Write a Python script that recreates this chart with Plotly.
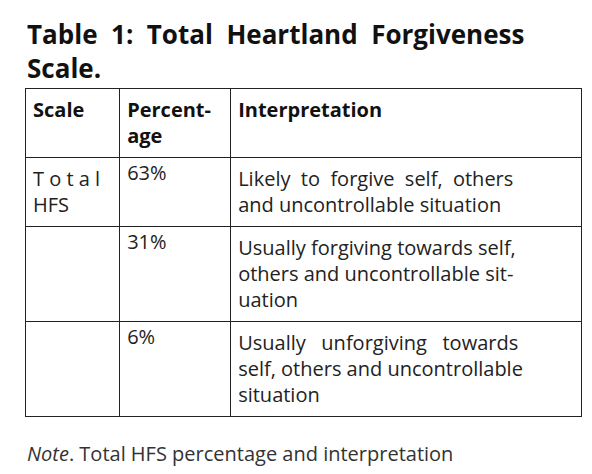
import plotly.graph_objects as go

header = ["<b>Scale</b>", "<b>Percent-<br>age</b>", "<b>Interpretation</b>"]
scale_col = ["T o t a l<br>HFS", "", ""]
percent_col = ["63%", "31%", "6%"]
interp_col = [
    "Likely  to  forgive  self,  others<br>and uncontrollable situation",
    "Usually forgiving towards self,<br>others and uncontrollable sit-<br>uation",
    "Usually   unforgiving   towards<br>self, others and uncontrollable<br>situation",
]
title_text = "<b>Table  1:  Total  Heartland  Forgiveness<br>Scale.</b>"
note_text = "<i>Note</i>. Total HFS percentage and interpretation"

W, H = 592, 474
fnt = "Open Sans"
fig = go.Figure(go.Table(
    domain=dict(x=[17/W, 573/W], y=[0, 1-80/H]),
    columnwidth=[95, 112, 354],
    header=dict(values=header, align="left", height=69,
                font=dict(family=fnt, size=20, color="#111"),
                line=dict(color="#222", width=1), fill=dict(color="white")),
    cells=dict(values=[scale_col, percent_col, interp_col], align="left", height=38,
               font=dict(family=fnt, size=20, color="#222"),
               line=dict(color="#222", width=1), fill=dict(color="white")),
))
fig.add_annotation(x=17/W, y=1-6/H, xref="paper", yref="paper", xanchor="left", yanchor="top",
                   text=title_text, showarrow=False, align="left",
                   font=dict(family=fnt, size=26, color="#111"))
fig.add_annotation(x=17/W, y=1-430/H, xref="paper", yref="paper", xanchor="left", yanchor="top",
                   text=note_text, showarrow=False, align="left",
                   font=dict(family=fnt, size=20, color="#333"))
fig.update_layout(width=W, height=H, margin=dict(l=0, r=0, t=0, b=0),
                  paper_bgcolor="white", plot_bgcolor="white")
fig.write_html("out.html")
